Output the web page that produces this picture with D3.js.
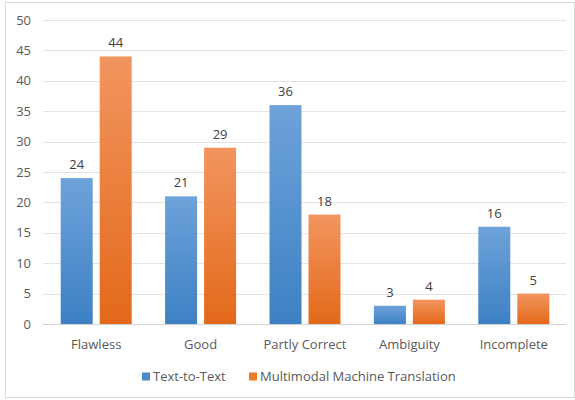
<!DOCTYPE html>
<html><head><meta charset="utf-8">
<script src="https://cdn.jsdelivr.net/npm/d3@7"></script>
<style>body{margin:0;background:#fff}svg{display:block;font-family:"Open Sans","Noto Sans",sans-serif}</style>
</head><body><svg id="c" width="575" height="400"></svg>
<script>
const categories = ["Flawless","Good","Partly Correct","Ambiguity","Incomplete"];
const seriesNames = ["Text-to-Text","Multimodal Machine Translation"];
const textToText = [24,21,36,3,16];
const multimodal = [44,29,18,4,5];
const yTicks = [0,5,10,15,20,25,30,35,40,45,50];

const svg = d3.select("#c");
const defs = svg.append("defs");
const grads = [["gb","#6ea2da","#3d81c4"],["go","#f2955f","#e3691a"]];
grads.forEach(([id,a,b])=>{
  const g = defs.append("linearGradient").attr("id",id).attr("x1",0).attr("y1",0).attr("x2",0).attr("y2",1);
  g.append("stop").attr("offset","0%").attr("stop-color",a);
  g.append("stop").attr("offset","100%").attr("stop-color",b);
});
svg.append("rect").attr("x",5.5).attr("y",2.5).attr("width",569).attr("height",395)
  .attr("fill","#fff").attr("stroke","#d9d9d9");

const x = d3.scaleBand().domain(categories).range([44,566]);
const y = d3.scaleLinear().domain([0,50]).range([324,20]);

svg.append("g").selectAll("line").data(yTicks).join("line")
  .attr("x1",43).attr("x2",566).attr("y1",d=>Math.round(y(d))+0.5).attr("y2",d=>Math.round(y(d))+0.5)
  .attr("stroke",d=>d===0?"#d0d0d0":"#e3e3e3").attr("stroke-width",1);

svg.append("g").selectAll("text").data(yTicks).join("text")
  .attr("x",31).attr("y",d=>y(d)+4.5).attr("text-anchor","end")
  .attr("font-size",13).attr("fill","#595959").text(d=>d);

const bw = 32, gap = 7;
const series = [textToText, multimodal];
series.forEach((vals,si)=>{
  const g = svg.append("g");
  const xpos = (c)=> x(c) + x.bandwidth()/2 + (si===0 ? -(bw+gap/2) : gap/2);
  g.selectAll("rect").data(categories).join("rect")
    .attr("x",(c)=>xpos(c)).attr("width",bw)
    .attr("y",(c,i)=>y(vals[i])).attr("height",(c,i)=>y(0)-y(vals[i]))
    .attr("fill",si===0?"url(#gb)":"url(#go)");
  g.selectAll("text").data(categories).join("text")
    .attr("x",(c)=>xpos(c)+bw/2).attr("y",(c,i)=>y(vals[i])-9)
    .attr("text-anchor","middle").attr("font-size",13).attr("fill","#404040")
    .text((c,i)=>vals[i]);
});

svg.append("g").selectAll("text").data(categories).join("text")
  .attr("x",c=>x(c)+x.bandwidth()/2).attr("y",349).attr("text-anchor","middle")
  .attr("font-size",13).attr("fill","#595959").text(c=>c);

const leg = [[142,"#4a8bcc"],[249,"#ef7a2c"]];
seriesNames.forEach((n,i)=>{
  svg.append("rect").attr("x",leg[i][0]).attr("y",372.5).attr("width",8).attr("height",8).attr("fill",leg[i][1]);
  svg.append("text").attr("x",leg[i][0]+11).attr("y",381).attr("font-size",13).attr("fill","#595959").text(n);
});
</script></body></html>
